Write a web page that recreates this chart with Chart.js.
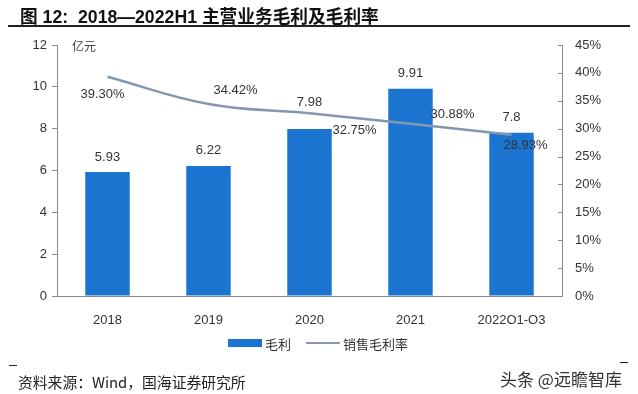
<!DOCTYPE html>
<html>
<head>
<meta charset="utf-8">
<script src="https://cdn.jsdelivr.net/npm/chart.js@4.4.0/dist/chart.umd.min.js"></script>
<style>
  body { margin: 0; background: #fff; width: 638px; height: 394px; position: relative; overflow: hidden;
         font-family: "Liberation Sans", Arial, "Noto Sans CJK SC", sans-serif; color: #222; }
  canvas { position: absolute; left: 0; top: 0; }
  #title { position: absolute; left: 20px; top: 2px; font-size: 17.7px; font-weight: bold; color: #111; white-space: nowrap; }
  #rule { position: absolute; left: 8px; width: 622px; top: 25px; border-top: 2px solid #222; }
  #unit { position: absolute; left: 72px; top: 37px; font-size: 12px; color: #444; font-family: "Noto Sans CJK SC", sans-serif; }
  .legend { position: absolute; top: 334px; font-size: 13px; color: #333; font-family: "Noto Sans CJK SC", sans-serif; white-space: nowrap; }
  .swatch-bar { position: absolute; left: 228px; top: 339px; width: 34px; height: 8px; background: #1a74d0; }
  .swatch-line { position: absolute; left: 306px; top: 342px; width: 34px; height: 0; border-top: 2.5px solid #8497b0; }
  .dash { position: absolute; width: 8px; border-top: 1px solid #222; }
  #source { position: absolute; left: 18px; top: 371px; font-size: 14.8px; color: #222; font-family: "Noto Sans CJK SC", sans-serif; white-space: nowrap; }
  #mark { position: absolute; left: 500px; top: 366px; font-size: 17px; color: #333; font-family: "Noto Sans CJK SC", sans-serif; white-space: nowrap; }
</style>
</head>
<body>
<canvas id="chart" width="638" height="394"></canvas>
<div id="title">图 12:&nbsp; 2018—2022H1 主营业务毛利及毛利率</div>
<div id="rule"></div>
<div id="unit">亿元</div>
<div class="swatch-bar"></div>
<div class="legend" style="left:265px">毛利</div>
<div class="swatch-line"></div>
<div class="legend" style="left:343px">销售毛利率</div>
<div class="dash" style="left:9px; top:365px"></div>
<div class="dash" style="left:620px; top:362px"></div>
<div id="source">资料来源：Wind，国海证券研究所</div>
<div id="mark">头条 @远瞻智库</div>

<script>
// --- Data ---
const categories = ["2018", "2019", "2020", "2021", "2022Q1-Q3"];
const grossProfit = [5.93, 6.22, 7.98, 9.91, 7.8];      // 亿元
const grossMargin = [39.30, 34.42, 32.75, 30.88, 28.93]; // %
const profitLabels = ["5.93", "6.22", "7.98", "9.91", "7.8"];
const marginLabels = ["39.30%", "34.42%", "32.75%", "30.88%", "28.93%"];

// label placement relative to the mark (px)
const profitLabelShift = [[0, -15], [0, -15], [0, -27], [0, -15], [0, -15]];
const marginLabelShift = [[-5, 18], [27, -14], [45, 17], [42, -9], [14, 11]];

const axisGrey = "#898989";
const tickFont = { family: "'Liberation Sans', Arial, sans-serif", size: 13 };

// --- Value labels ---
const valueLabels = {
  id: "valueLabels",
  afterDatasetsDraw(chart) {
    const ctx = chart.ctx;
    ctx.save();
    ctx.font = "13px 'Liberation Sans', Arial, sans-serif";
    ctx.fillStyle = "#333";
    ctx.textAlign = "center";
    ctx.textBaseline = "middle";
    chart.getDatasetMeta(0).data.forEach((bar, i) => {
      ctx.fillText(profitLabels[i], bar.x + profitLabelShift[i][0], bar.y + profitLabelShift[i][1]);
    });
    chart.getDatasetMeta(1).data.forEach((pt, i) => {
      ctx.fillText(marginLabels[i], pt.x + marginLabelShift[i][0], pt.y + marginLabelShift[i][1]);
    });
    ctx.restore();
  }
};

// right axis tick marks point inwards
const innerTicks = {
  id: "innerTicks",
  afterDraw(chart) {
    const s = chart.scales.y1;
    const ctx = chart.ctx;
    ctx.save();
    ctx.strokeStyle = axisGrey;
    ctx.lineWidth = 1;
    s.ticks.forEach(t => {
      const y = Math.round(s.getPixelForValue(t.value)) + 0.5;
      ctx.beginPath();
      ctx.moveTo(s.left - 4, y);
      ctx.lineTo(s.left, y);
      ctx.stroke();
    });
    ctx.restore();
  }
};

new Chart(document.getElementById("chart"), {
  type: "bar",
  data: {
    labels: categories,
    datasets: [
      {
        label: "毛利",
        data: grossProfit,
        backgroundColor: "#1a74d0",
        barPercentage: 0.44,
        categoryPercentage: 1,
        yAxisID: "y",
        order: 1
      },
      {
        label: "销售毛利率",
        type: "line",
        data: grossMargin,
        borderColor: "#8497b0",
        borderWidth: 2.5,
        pointRadius: 0,
        tension: 0.4,
        fill: false,
        yAxisID: "y1",
        order: 0
      }
    ]
  },
  options: {
    responsive: false,
    animation: false,
    layout: { padding: { top: 45, bottom: 70, left: 0, right: 0 } },
    plugins: { legend: { display: false }, tooltip: { enabled: false } },
    scales: {
      x: {
        grid: { display: false },
        border: { color: axisGrey, width: 1 },
        ticks: { color: "#333", font: tickFont, padding: 9, maxRotation: 0 },
        afterFit(s) { s.height = 28; }
      },
      y: {
        position: "left",
        min: 0,
        max: 12,
        ticks: { stepSize: 2, color: "#333", font: tickFont, padding: 5 },
        grid: { drawOnChartArea: false, tickLength: 5, color: axisGrey },
        border: { color: axisGrey, width: 1 },
        afterFit(s) { s.width = 57; }
      },
      y1: {
        position: "right",
        min: 0,
        max: 45,
        ticks: { stepSize: 5, color: "#333", font: tickFont, padding: 13, callback: v => v + "%" },
        grid: { drawOnChartArea: false, drawTicks: false, color: axisGrey },
        border: { color: axisGrey, width: 1 },
        afterFit(s) { s.width = 76; }
      }
    }
  },
  plugins: [valueLabels, innerTicks]
});
</script>
</body>
</html>
